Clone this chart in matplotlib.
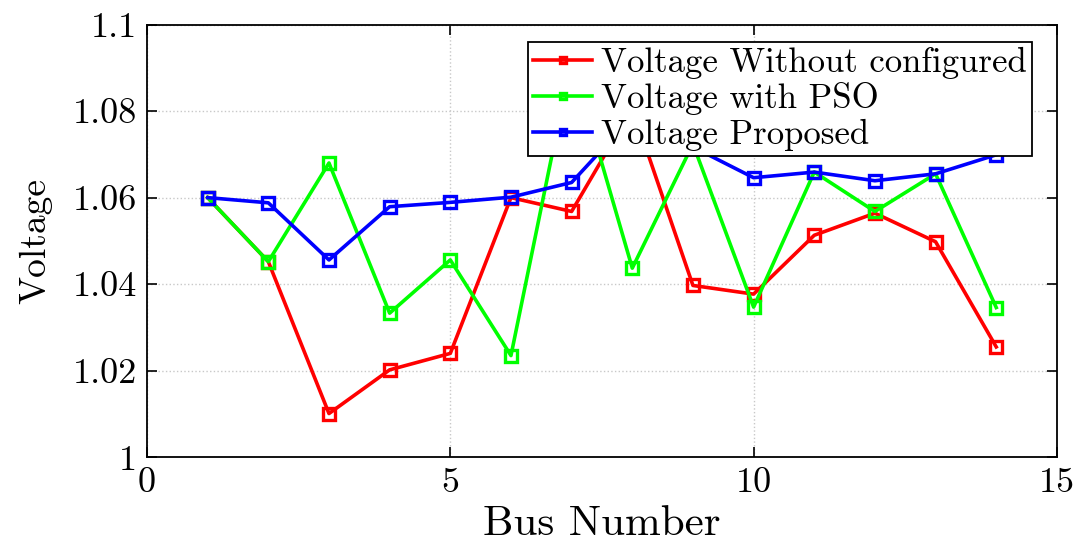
import matplotlib
matplotlib.use("Agg")
import matplotlib.pyplot as plt

bus = [1, 2, 3, 4, 5, 6, 7, 8, 9, 10, 11, 12, 13, 14]
v_without = [1.060, 1.0452, 1.0101, 1.0202, 1.0240, 1.0600, 1.0568, 1.0807, 1.0397,
             1.0377, 1.0513, 1.0564, 1.0498, 1.0255]
v_pso = [1.060, 1.0452, 1.0680, 1.0333, 1.0456, 1.0235, 1.0920, 1.0437, 1.0724,
         1.0347, 1.0659, 1.0568, 1.0655, 1.0346]
v_proposed = [1.060, 1.0588, 1.0456, 1.0579, 1.0589, 1.0601, 1.0635, 1.0787, 1.0717,
              1.0646, 1.0659, 1.0639, 1.0655, 1.0699]
labels = ["Voltage Without configured", "Voltage with PSO", "Voltage Proposed"]
xticks = [0, 5, 10, 15]
yticks = [1.0, 1.02, 1.04, 1.06, 1.08, 1.1]
ytick_labels = ["1", "1.02", "1.04", "1.06", "1.08", "1.1"]

plt.rcParams["font.family"] = "serif"
plt.rcParams["font.serif"] = ["cmr10", "DejaVu Serif"]
plt.rcParams["mathtext.fontset"] = "cm"
plt.rcParams["axes.formatter.use_mathtext"] = True

fig = plt.figure(figsize=(10.73, 5.45), dpi=100)
ax = fig.add_axes([0.137, 0.161, 0.848, 0.794])

style = dict(lw=2.6, marker="s", ms=9, mew=2.4, mfc="none")
ax.plot(bus, v_without, color=(1, 0, 0), label=labels[0], **style)
ax.plot(bus, v_pso, color=(0, 1, 0), label=labels[1], **style)
ax.plot(bus, v_proposed, color=(0, 0, 1), label=labels[2], **style)

ax.set_xlim(0, 15)
ax.set_ylim(1.0, 1.1)
ax.set_xticks(xticks)
ax.set_xticklabels([str(t) for t in xticks])
ax.set_yticks(yticks)
ax.set_yticklabels(ytick_labels)
ax.tick_params(direction="in", top=True, right=True, length=7, width=1.2,
               labelsize=26, pad=7)
ax.grid(True, linestyle=":", color="#c8c8c8", lw=1.0)
for s in ax.spines.values():
    s.set_linewidth(1.3)

ax.set_xlabel("Bus Number", fontsize=31, labelpad=5)
ax.set_ylabel("Voltage", fontsize=27, labelpad=15)

leg = ax.legend(loc="upper right", bbox_to_anchor=(0.9725, 0.9606),
                borderaxespad=0, fontsize=25, frameon=True, fancybox=False,
                edgecolor="black", framealpha=1, handlelength=1.7,
                handletextpad=0.25, borderpad=0.15, labelspacing=0.1,
                markerscale=0.55)
leg.get_frame().set_linewidth(1.3)

fig.savefig("out.png", dpi=100)
